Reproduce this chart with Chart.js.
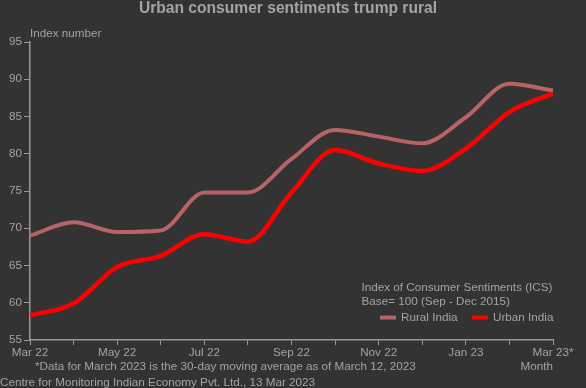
<!DOCTYPE html>
<html>
<head>
<meta charset="utf-8">
<script src="https://cdn.jsdelivr.net/npm/chart.js@4"></script>
<style>
html,body{margin:0;padding:0;background:#333333;}
#wrap{width:586px;height:388px;}
</style>
</head>
<body>
<div id="wrap"><canvas id="c" width="586" height="388"></canvas></div>
<script>
const categories = ['Mar 22','Apr 22','May 22','Jun 22','Jul 22','Aug 22','Sep 22','Oct 22','Nov 22','Dec 22','Jan 23','Feb 23','Mar 23*'];
const ruralIndia = [69.0, 70.8, 69.5, 69.7, 74.8, 74.8, 79.3, 83.2, 82.3, 81.4, 84.9, 89.4, 88.5];
const urbanIndia = [58.3, 59.9, 64.8, 66.3, 69.2, 68.2, 74.8, 80.5, 78.7, 77.7, 80.7, 85.6, 88.1];
const yTicks = [55, 60, 65, 70, 75, 80, 85, 90, 95];

const TXT = '#a3a3a3';
const AX = '#9a9a9a';
const FONT = '"Liberation Sans", Arial, sans-serif';
const FS = 11.7;

const extras = {
  id: 'extras',
  afterDraw(chart) {
    const ctx = chart.ctx;
    const a = chart.chartArea;
    ctx.save();
    // title
    ctx.fillStyle = TXT;
    ctx.font = 'bold 15.6px ' + FONT;
    ctx.textAlign = 'center';
    ctx.textBaseline = 'middle';
    ctx.fillText('Urban consumer sentiments trump rural', 288, 9);

    ctx.font = FS + 'px ' + FONT;
    ctx.textAlign = 'left';
    ctx.fillText('Index number', a.left, a.top - 8);
    // footnote
    ctx.fillText('*Data for March 2023 is the 30-day moving average as of March 12, 2023', 35, a.bottom + 27);
    ctx.textAlign = 'right';
    ctx.fillText('Month', a.right, a.bottom + 27);
    ctx.textAlign = 'left';
    ctx.fillText('Centre for Monitoring Indian Economy Pvt. Ltd., 13 Mar 2023', 0, a.bottom + 42.5);
    // legend
    ctx.fillText('Index of Consumer Sentiments (ICS)', 361.5, a.bottom - 52);
    ctx.fillText('Base= 100 (Sep - Dec 2015)', 361.5, a.bottom - 38);
    const ds = chart.data.datasets;
    const items = [{x: 380, ds: ds[0]}, {x: 472, ds: ds[1]}];
    const ly = a.bottom - 22.5;
    items.forEach(it => {
      ctx.fillStyle = it.ds.borderColor;
      ctx.fillRect(it.x, ly - 2, 16, 4);
      ctx.fillStyle = TXT;
      ctx.fillText(it.ds.label, it.x + 21, ly);
    });
    ctx.restore();
  }
};

new Chart(document.getElementById('c'), {
  type: 'line',
  data: {
    labels: categories,
    datasets: [
      {label: 'Rural India', data: ruralIndia, borderColor: '#b86466', borderWidth: 4, pointRadius: 0, cubicInterpolationMode: 'monotone', fill: false},
      {label: 'Urban India', data: urbanIndia, borderColor: '#ff0000', borderWidth: 4.5, pointRadius: 0, cubicInterpolationMode: 'monotone', fill: false}
    ]
  },
  options: {
    responsive: false,
    animation: false,
    devicePixelRatio: 1,
    layout: {padding: {left: 0, right: 33, top: 42, bottom: 0}},
    plugins: {
      legend: {display: false},
      tooltip: {enabled: false},
      title: {display: false}
    },
    scales: {
      x: {
        type: 'category',
        offset: false,
        border: {display: true, color: AX, width: 1.5},
        grid: {display: true, drawOnChartArea: false, drawTicks: true, tickLength: 5, color: AX},
        ticks: {
          autoSkip: false, maxRotation: 0, color: TXT, padding: 1,
          font: {family: FONT, size: FS},
          callback: function(v, i) { return i % 2 === 0 ? categories[i] : ''; }
        },
        afterFit(s) { s.height = 48; }
      },
      y: {
        min: 55, max: 95,
        border: {display: true, color: AX, width: 1.5},
        grid: {display: true, drawOnChartArea: false, drawTicks: true, tickLength: 6, color: AX},
        afterBuildTicks(s) { s.ticks = yTicks.map(v => ({value: v})); },
        ticks: {color: TXT, padding: 2, font: {family: FONT, size: FS}},
        afterFit(s) { s.width = 30; }
      }
    }
  },
  plugins: [extras]
});
</script>
</body>
</html>
